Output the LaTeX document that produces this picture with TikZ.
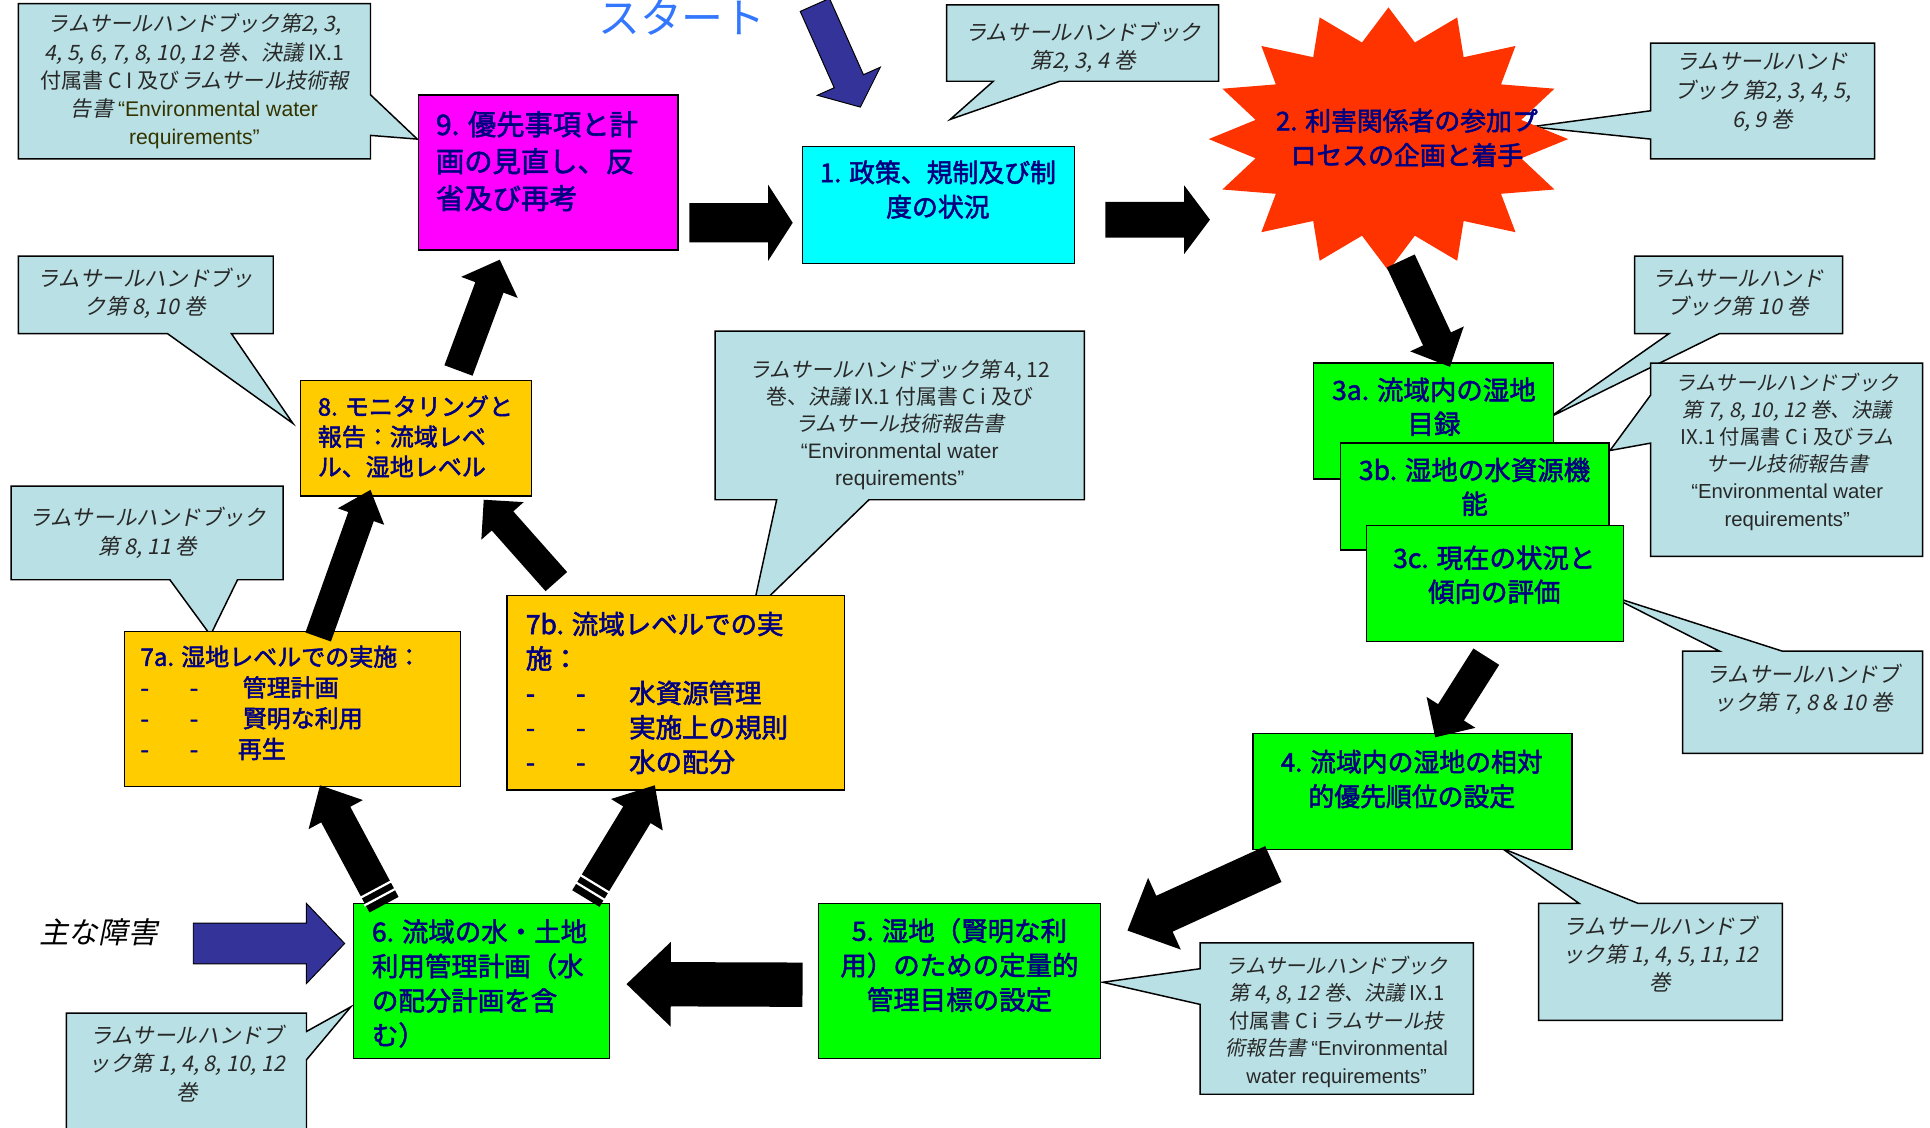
\documentclass[tikz,border=0pt]{standalone}
\usepackage{fontspec}
\setmainfont{Noto Sans CJK JP}[AutoFakeSlant=0.2,AutoFakeBold=2]
\newfontfamily\lat{Liberation Sans}
\usetikzlibrary{calc}
\definecolor{navyc}{RGB}{0,0,128}
\definecolor{cfill}{RGB}{185,224,228}
\definecolor{ctextc}{RGB}{40,40,40}
\definecolor{magbox}{RGB}{255,0,255}
\definecolor{cyanbox}{RGB}{0,255,255}
\definecolor{greenbox}{RGB}{0,255,0}
\definecolor{orangebox}{RGB}{255,204,0}
\definecolor{starred}{RGB}{255,51,0}
\definecolor{arrowblue}{RGB}{51,51,153}
\definecolor{startblue}{RGB}{51,119,255}
\definecolor{olivetext}{RGB}{51,51,0}
\newcommand\fs[2]{\fontsize{#1pt}{#2pt}\selectfont}
\newcommand\I[1]{{\itshape #1}}
\newcommand\E[1]{{\lat #1}}
\newcommand\blockarrow[6]{%
  \coordinate (hb) at ($(#3)!#6!(#2)$);
  \path[#1] ($(#2)!#4!90:(#3)$) -- ($(hb)!#4!90:(#3)$) -- ($(hb)!#5!90:(#3)$) -- (#3)
    -- ($(hb)!#5!-90:(#3)$) -- ($(hb)!#4!-90:(#3)$) -- ($(#2)!#4!-90:(#3)$) -- cycle;}
\newcommand\stripes[3]{%
  \coordinate (sa) at ($(#1)!7pt!(#2)$);
  \coordinate (sb) at ($(#1)!14pt!(#2)$);
  \draw[stripe] ($(sa)!#3!90:(#2)$) -- ($(sa)!#3!-90:(#2)$);
  \draw[stripe] ($(sb)!#3!90:(#2)$) -- ($(sb)!#3!-90:(#2)$);}
\newcommand\boxnode[6]{%
  \node[boxst, fill=#6, minimum width={#4pt-#2pt}, minimum height={#5pt-#3pt}] (#1) at ({(#2+#4)/2},{(#3+#5)/2}) {};}
\tikzset{
  boxst/.style={draw=black, line width=1.2pt, inner sep=0pt, outer sep=0pt},
  callst/.style={draw=black, line width=1.2pt, fill=cfill, line join=miter},
  btext/.style={text=navyc, inner sep=0pt},
  ctext/.style={text=ctextc, inner sep=0pt, align=center},
  blackarrow/.style={fill=black},
  bluearrow/.style={fill=arrowblue, draw=black, line width=0.8pt, line join=miter},
  stripe/.style={draw=white, line width=1.8pt},
}
\begin{document}
\begin{tikzpicture}[x=1pt,y=-1pt]
\useasboundingbox (0,0) rectangle (1568,916);
\clip (0,0) rectangle (1568,916);

% ---------- callouts ----------
\draw[callst] (15,3) -- (301,3) -- (301,77) -- (339,113) -- (301,110) -- (301,129) -- (15,129) -- cycle;
\node[ctext, font=\fs{17.2}{22.8}] (cA) at (158,66) {\I{ラムサールハンドブック第2, 3,}\\\I{4, 5, 6, 7, 8, 10, 12 巻、決議} IX.1\\付属書 C I 及び\I{ラムサール技術報}\\\I{告書} \textcolor{olivetext}{\E{“Environmental water}}\\\textcolor{olivetext}{\E{requirements”}}};

\draw[callst] (769,4) -- (990,4) -- (990,66) -- (861,66) -- (772,97) -- (807,66) -- (769,66) -- cycle;
\node[ctext, font=\fs{17.5}{23}] (cB) at (880,38.5) {\I{ラムサールハンドブック}\\\I{第2, 3, 4 巻}};

\draw[callst] (1341,35) -- (1523,35) -- (1523,129) -- (1341,129) -- (1341,113) -- (1244,103) -- (1341,90) -- cycle;
\node[ctext, font=\fs{17.5}{23.5}] (cC) at (1432,75) {\I{ラムサールハンド}\\\I{ブック 第2, 3, 4, 5,}\\\I{6, 9 巻}};

\draw[callst] (1328,208) -- (1497,208) -- (1497,271) -- (1397,271) -- (1259,339) -- (1356,271) -- (1328,271) -- cycle;
\node[ctext, font=\fs{17.5}{23}] (cD) at (1412,238) {\I{ラムサールハンド}\\\I{ブック第 10 巻}};

\draw[callst] (1341,295) -- (1562,295) -- (1562,452) -- (1341,452) -- (1341,360) -- (1308,366) -- (1341,321) -- cycle;
\node[ctext, font=\fs{16.5}{22}] (cE) at (1452,367) {\I{ラムサールハンドブック}\\\I{第 7, 8, 10, 12 巻、決議}\\IX.1 付属書 C i 及び\I{ラム}\\\I{サール技術報告書}\\\E{“Environmental water}\\\E{requirements”}};

\draw[callst] (1367,529) -- (1397,529) -- (1308,484) -- (1448,529) -- (1562,529) -- (1562,612) -- (1367,612) -- cycle;
\node[ctext, font=\fs{17.5}{23}] (cF) at (1465,560) {\I{ラムサールハンドブ}\\\I{ック第 7, 8 \& 10 巻}};

\draw[callst] (1250,734) -- (1283,734) -- (1220,689) -- (1331,734) -- (1448,734) -- (1448,829) -- (1250,829) -- cycle;
\node[ctext, font=\fs{17.5}{22.5}] (cG) at (1349,775) {\I{ラムサールハンドブ}\\\I{ック第 1, 4, 5, 11, 12}\\\I{巻}};

\draw[callst] (975,766) -- (1197,766) -- (1197,889) -- (975,889) -- (975,816) -- (896,798) -- (975,787) -- cycle;
\node[ctext, font=\fs{16.5}{22.3}] (cH) at (1086,830) {\I{ラムサールハンドブック}\\\I{第 4, 8, 12 巻、決議} IX.1\\付属書 C i \I{ラムサール技}\\\I{術報告書} \E{“Environmental}\\\E{water requirements”}};

\draw[callst] (54,823) -- (249,823) -- (249,838) -- (285,818) -- (249,861) -- (249,930) -- (54,930) -- cycle;
\node[ctext, font=\fs{17.5}{23}] (cI) at (152,864) {\I{ラムサールハンドブ}\\\I{ック第 1, 4, 8, 10, 12}\\\I{巻}};

\draw[callst] (15,208) -- (222,208) -- (222,271) -- (188,271) -- (238,344) -- (136,271) -- (15,271) -- cycle;
\node[ctext, font=\fs{17.5}{23}] (cJ) at (118,238.5) {\I{ラムサールハンドブッ}\\\I{ク第 8, 10 巻}};

\draw[callst] (9,395) -- (230,395) -- (230,471) -- (193,471) -- (171,516) -- (138,471) -- (9,471) -- cycle;
\node[ctext, font=\fs{17.5}{24}] (cK) at (120,433) {\I{ラムサールハンドブック}\\\I{第 8, 11 巻}};

\draw[callst] (581,269) -- (881,269) -- (881,406) -- (706,406) -- (611,498) -- (631,406) -- (581,406) -- cycle;
\node[ctext, font=\fs{17}{22}] (cL) at (731,345) {\I{ラムサールハンドブック第} 4, 12\\巻、\I{決議} IX.1 付属書 C i 及び\\\I{ラムサール技術報告書}\\\E{“Environmental water}\\\E{requirements”}};

% ---------- boxes ----------
\boxnode{b9}{340}{77}{551}{203}{magbox}
\node[btext, anchor=west, align=left, font=\bfseries\fs{23}{30}] (t9) at (354,131) {9. 優先事項と計\\画の見直し、反\\省及び再考};

\boxnode{b1}{652}{119}{873}{214}{cyanbox}
\node[btext, align=center, font=\bfseries\fs{21}{28}] (t1) at (762,154) {1. 政策、規制及び制\\度の状況};

\fill[starred] plot[variable=\t, samples at={0,...,31}]
  ({1128+ifthenelse(mod(\t,2)==0,146,110)*cos(90+11.25*\t)}, {113+ifthenelse(mod(\t,2)==0,107,80)*sin(90+11.25*\t)}) -- cycle;
\node[btext, align=center, font=\bfseries\fs{21}{28}] (t2) at (1143,112) {2. 利害関係者の参加プ\\ロセスの企画と着手};

\boxnode{b3a}{1067}{295}{1262}{389}{greenbox}
\node[btext, align=center, font=\bfseries\fs{21.5}{27.5}] (t3a) at (1165,330.5) {3a. 流域内の湿地\\目録};
\boxnode{b3b}{1089}{360}{1307}{447}{greenbox}
\node[btext, align=center, font=\bfseries\fs{21.5}{27.5}] (t3b) at (1198,395.5) {3b. 湿地の水資源機\\能};
\boxnode{b3c}{1110}{427}{1319}{521}{greenbox}
\node[btext, align=center, font=\bfseries\fs{21.5}{27.5}] (t3c) at (1214,467) {3c. 現在の状況と\\傾向の評価};

\boxnode{b4}{1018}{596}{1277}{690}{greenbox}
\node[btext, align=center, font=\bfseries\fs{21}{28}] (t4) at (1147,633) {4. 流域内の湿地の相対\\的優先順位の設定};

\boxnode{b5}{665}{734}{894}{860}{greenbox}
\node[btext, align=center, font=\bfseries\fs{21.5}{28}] (t5) at (779.5,784) {5. 湿地（賢明な利\\用）のための定量的\\管理目標の設定};

\boxnode{b6}{287}{734}{495}{860}{greenbox}
\node[btext, anchor=west, align=left, font=\bfseries\fs{21.5}{28}] (t6) at (302,799) {6. 流域の水・土地\\利用管理計画（水\\の配分計画を含\\む）};

\boxnode{b7a}{101}{513}{374}{639}{orangebox}
\node[btext, anchor=west, align=left, font=\bfseries\fs{19.5}{25}] (t7a) at (114,571) {7a. 湿地レベルでの実施：\\\makebox[40pt][l]{-}\makebox[43pt][l]{-}管理計画\\\makebox[40pt][l]{-}\makebox[43pt][l]{-}賢明な利用\\\makebox[40pt][l]{-}\makebox[39pt][l]{-}再生};

\boxnode{b7b}{412}{484}{686}{642}{orangebox}
\node[btext, anchor=west, align=left, font=\bfseries\fs{21.5}{28}] (t7b) at (427,563) {7b. 流域レベルでの実\\施：\\\makebox[41pt][l]{-}\makebox[43pt][l]{-}水資源管理\\\makebox[41pt][l]{-}\makebox[43pt][l]{-}実施上の規則\\\makebox[41pt][l]{-}\makebox[43pt][l]{-}水の配分};

\boxnode{b8}{244}{309}{432}{403}{orangebox}
\node[btext, anchor=west, align=left, font=\bfseries\fs{19.5}{24.5}] (t8) at (258,354.5) {8. モニタリングと\\報告：流域レベ\\ル、湿地レベル};

% ---------- free texts ----------
\node[text=startblue, inner sep=0pt, font=\fs{34}{34}] (start) at (554,14) {スタート};
\node[text=black, inner sep=0pt, font=\itshape\fs{24}{24}] (obst) at (80,757) {主な障害};

% ---------- arrow end points ----------
\coordinate (a91s) at (560,181);    \coordinate (a91e) at (644,181);
\coordinate (a12s) at (898,178.5);  \coordinate (a12e) at (983,178.5);
\coordinate (a23s) at (1138,212);   \coordinate (a23e) at (1178,298);
\coordinate (a34s) at (1207.5,533.5); \coordinate (a34e) at (1166,599);
\coordinate (a45s) at (1034.5,702); \coordinate (a45e) at (916,756);
\coordinate (a56s) at (652,800);    \coordinate (a56e) at (509,799.5);
\coordinate (a67as) at (312,735);   \coordinate (a67ae) at (260,638);
\coordinate (a67bs) at (476,730);   \coordinate (a67be) at (532,638);
\coordinate (a78as) at (258.5,517.5); \coordinate (a78ae) at (301,398);
\coordinate (a78bs) at (452,472.5); \coordinate (a78be) at (393,406);
\coordinate (a89s) at (372.5,301);  \coordinate (a89e) at (406,211);
\coordinate (aobs) at (157,766.5);  \coordinate (aobe) at (280,766.5);
\coordinate (asts) at (662,4);      \coordinate (aste) at (699,87);

% ---------- arrows ----------
\blockarrow{blackarrow}{a91s}{a91e}{16pt}{31pt}{20pt}
\blockarrow{blackarrow}{a12s}{a12e}{14.5pt}{28pt}{21pt}
\blockarrow{blackarrow}{a23s}{a23e}{12.5pt}{24pt}{25pt}
\blockarrow{blackarrow}{a34s}{a34e}{12.4pt}{23.5pt}{24pt}
\blockarrow{blackarrow}{a45s}{a45e}{16pt}{32pt}{33pt}
\blockarrow{blackarrow}{a56s}{a56e}{18pt}{34.5pt}{36pt}
\blockarrow{blackarrow}{a67as}{a67ae}{13.4pt}{25pt}{27pt}
\stripes{a67as}{a67ae}{14.5pt}
\blockarrow{blackarrow}{a67bs}{a67be}{13pt}{24.6pt}{28pt}
\stripes{a67bs}{a67be}{14pt}
\blockarrow{blackarrow}{a78as}{a78ae}{11pt}{20pt}{23pt}
\blockarrow{blackarrow}{a78bs}{a78be}{11.7pt}{23pt}{23pt}
\blockarrow{blackarrow}{a89s}{a89e}{12.2pt}{24.5pt}{24pt}
\blockarrow{bluearrow}{aobs}{aobe}{16.5pt}{32.5pt}{31pt}
\blockarrow{bluearrow}{asts}{aste}{13pt}{28pt}{23pt}
\end{tikzpicture}
\end{document}
